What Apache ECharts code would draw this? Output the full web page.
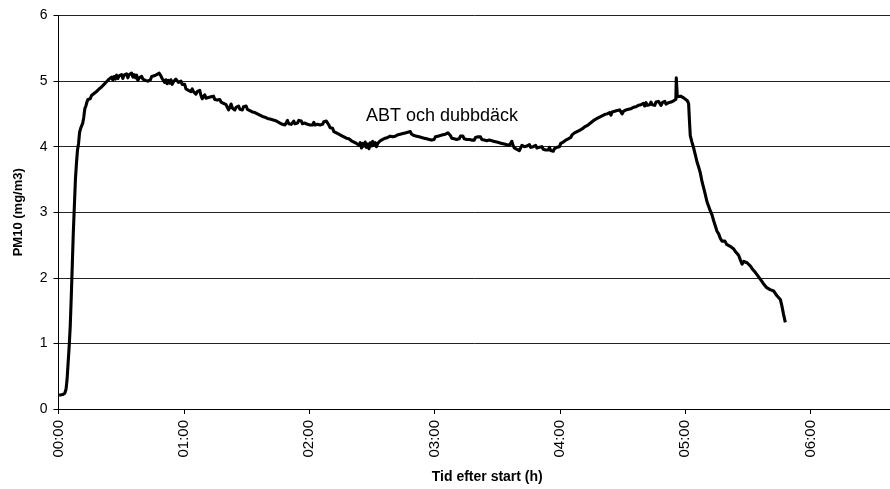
<!DOCTYPE html>
<html>
<head>
<meta charset="utf-8">
<script src="https://cdn.jsdelivr.net/npm/echarts@6/dist/echarts.min.js"></script>
<style>
  html, body { margin: 0; padding: 0; background: #fff; }
  #chart { width: 890px; height: 489px; }
</style>
</head>
<body>
<div id="chart"></div>
<script>
// Time since start, in minutes
const minutes = [
  0.3, 1, 2, 3, 3.6, 4.1, 4.6, 5.1, 5.6, 6.1, 6.6, 7.1, 7.6, 8.1, 8.6, 9.1, 9.6, 10.1, 10.6, 11.1,
  11.6, 12.1, 12.6, 13.1, 13.6, 14.1, 14.6, 15.2, 15.8, 16.4, 17.0, 17.6, 18.2, 18.8, 19.4, 20.0,
  20.6, 21.2, 21.8, 22.4, 23.0, 23.6, 24.2, 24.8, 25.4, 26.0, 26.6, 27.2, 27.8, 28.4, 29.0, 29.6,
  30.2, 30.8, 31.4, 32.0, 32.6, 33.2, 33.8, 34.4, 35.0, 35.6, 36.2, 36.8, 37.4, 38.0, 38.6, 39.2,
  39.8, 40.4, 41.0, 41.6, 42.2, 42.8, 43.4, 44.0, 44.6, 45.2, 45.8, 46.4, 47.0, 47.6, 48.2, 48.6,
  49.0, 49.6, 50.2, 50.8, 51.4, 52.0, 52.6, 53.2, 53.8, 54.4, 55.0, 55.6, 56.2, 56.8, 57.4, 58.0,
  58.6, 59.2, 59.8, 60.4, 61.0, 61.6, 62.2, 62.8, 63.4, 64.0, 64.6, 65.2, 65.8, 66.4, 67.0, 67.6,
  68.2, 68.8, 69.4, 70.0, 70.6, 71.2, 71.8, 72.4, 73.0, 73.6, 74.2, 74.8, 75.4, 76.0, 76.6, 77.2,
  77.8, 78.4, 79.0, 79.6, 80.2, 80.8, 81.4, 82.0, 82.6, 83.2, 83.8, 84.4, 85.0, 85.6, 86.2, 86.8,
  87.4, 88.0, 88.6, 89.2, 89.8, 90.4, 91.0, 91.6, 92.2, 92.8, 93.4, 94.0, 94.6, 95.2, 95.8, 96.4,
  97.0, 97.6, 98.2, 98.8, 99.4, 100.0, 100.6, 101.2, 101.8, 102.4, 103.0, 103.6, 104.2, 104.8,
  105.4, 106.0, 106.6, 107.2, 107.8, 108.4, 109.0, 109.6, 110.2, 110.8, 111.4, 112.0, 112.6,
  113.2, 113.8, 114.4, 115.0, 115.6, 116.2, 116.8, 117.4, 118.0, 118.6, 119.2, 119.8, 120.4,
  121.0, 121.6, 122.2, 122.8, 123.4, 124.0, 124.6, 125.2, 125.8, 126.4, 127.0, 127.6, 128.2,
  128.8, 129.4, 130.0, 130.6, 131.2, 131.8, 132.4, 133.0, 133.6, 134.2, 134.8, 135.4, 136.0,
  136.6, 137.2, 137.8, 138.4, 139.0, 139.6, 140.2, 140.8, 141.4, 142.0, 142.6, 143.2, 143.8,
  144.4, 145.0, 145.6, 146.2, 146.8, 147.4, 148.0, 148.6, 149.2, 149.8, 150.4, 151.0, 151.6,
  152.2, 152.8, 153.4, 154.0, 154.6, 155.2, 155.8, 156.4, 157.0, 157.6, 158.2, 158.8, 159.4,
  160.0, 160.6, 161.2, 161.8, 162.4, 163.0, 163.6, 164.2, 164.8, 165.4, 166.0, 166.6, 167.2,
  167.8, 168.4, 169.0, 169.6, 170.2, 170.8, 171.4, 172.0, 172.6, 173.2, 173.8, 174.4, 175.0,
  175.6, 176.2, 176.8, 177.4, 178.0, 178.6, 179.2, 179.8, 180.4, 181.0, 181.6, 182.2, 182.8,
  183.4, 184.0, 184.6, 185.2, 185.8, 186.4, 187.0, 187.6, 188.2, 188.8, 189.4, 190.0, 190.6,
  191.2, 191.8, 192.4, 193.0, 193.6, 194.2, 194.8, 195.4, 196.0, 196.6, 197.2, 197.8, 198.4,
  199.0, 199.6, 200.2, 200.8, 201.4, 202.0, 202.6, 203.2, 203.8, 204.4, 205.0, 205.6, 206.2,
  206.8, 207.4, 208.0, 208.6, 209.2, 209.8, 210.4, 211.0, 211.6, 212.2, 212.8, 213.4, 214.0,
  214.6, 215.2, 215.8, 216.4, 217.0, 217.6, 218.2, 218.8, 219.4, 220.0, 220.6, 221.2, 221.8,
  222.4, 223.0, 223.6, 224.2, 224.8, 225.4, 226.0, 226.6, 227.2, 227.8, 228.4, 229.0, 229.6,
  230.2, 230.8, 231.4, 232.0, 232.6, 233.2, 233.8, 234.4, 235.0, 235.6, 236.2, 236.8, 237.4,
  238.0, 238.6, 239.2, 239.8, 240.4, 241.0, 241.6, 242.2, 242.8, 243.4, 244.0, 244.6, 245.2,
  245.8, 246.4, 247.0, 247.6, 248.2, 248.8, 249.4, 250.0, 250.6, 251.2, 251.8, 252.4, 253.0,
  253.6, 254.2, 254.8, 255.4, 256.0, 256.6, 257.2, 257.8, 258.4, 259.0, 259.6, 260.2, 260.8,
  261.4, 262.0, 262.6, 263.2, 263.8, 264.4, 265.0, 265.6, 266.2, 266.8, 267.4, 268.0, 268.6,
  269.2, 269.8, 270.4, 271.0, 271.6, 272.2, 272.8, 273.4, 274.0, 274.6, 275.2, 275.8, 276.4,
  277.0, 277.6, 278.2, 278.8, 279.4, 280.0, 280.6, 281.2, 281.8, 282.4, 283.0, 283.6, 284.2,
  284.8, 285.4, 286.0, 286.6, 287.2, 287.8, 288.4, 289.0, 289.6, 290.2, 290.8, 291.4, 292.0,
  292.6, 293.2, 293.8, 294.4, 295.0, 295.5, 295.7, 295.9, 296.2, 297.0, 297.8, 298.6, 299.4,
  300.2, 301.0, 301.6, 302.0, 302.4, 303.2, 304.0, 304.8, 305.6, 306.4, 307.2, 308.0, 308.8,
  309.6, 310.4, 311.2, 312.0, 312.8, 313.6, 314.4, 315.2, 316.0, 316.8, 317.6, 318.3, 319.0,
  319.8, 320.6, 321.5, 322.4, 323.2, 324.0, 324.8, 325.6, 326.4, 327.2, 328.0, 328.8, 329.6,
  330.4, 331.2, 332.0, 332.8, 333.6, 334.4, 335.2, 335.9, 336.6, 337.4, 338.2, 339.0, 339.8,
  340.6, 341.4, 342.3, 343.0, 343.8, 344.6, 345.5, 346.2, 347.0, 347.9
];

// PM10 concentration, mg/m3
const pm10 = [
  0.21, 0.21, 0.22, 0.24, 0.30, 0.45, 0.70, 0.95, 1.25, 1.70, 2.20, 2.70, 3.10, 3.50, 3.75, 3.95, 4.05, 4.22, 4.28, 4.30,
  4.36, 4.45, 4.58, 4.62, 4.68, 4.72, 4.74, 4.73, 4.78, 4.76, 4.81, 4.80, 4.84, 4.83, 4.88, 4.86,
  4.91, 4.90, 4.95, 4.93, 4.99, 4.97, 5.03, 5.00, 5.06, 5.02, 5.07, 5.03, 5.09, 5.04, 5.08, 5.05,
  5.10, 5.04, 5.09, 5.06, 5.11, 5.05, 5.10, 5.07, 5.12, 5.06, 5.10, 5.05, 5.09, 5.01, 5.05, 5.04,
  5.07, 5.03, 5.06, 5.01, 5.04, 5.00, 5.03, 5.02, 5.07, 5.04, 5.08, 5.05, 5.10, 5.07, 5.12, 5.15,
  5.08, 5.04, 5.06, 4.98, 5.02, 4.96, 5.01, 4.97, 5.02, 4.95, 4.99, 4.96, 5.03, 5.05, 4.98, 4.96,
  5.00, 4.95, 4.92, 4.95, 4.88, 4.91, 4.86, 4.88, 4.84, 4.88, 4.84, 4.86, 4.80, 4.84, 4.82, 4.86,
  4.78, 4.73, 4.76, 4.79, 4.74, 4.77, 4.75, 4.72, 4.76, 4.73, 4.77, 4.72, 4.75, 4.71, 4.68, 4.72,
  4.68, 4.70, 4.66, 4.69, 4.64, 4.60, 4.56, 4.60, 4.65, 4.59, 4.62, 4.56, 4.60, 4.58, 4.62, 4.57,
  4.60, 4.56, 4.61, 4.58, 4.62, 4.57, 4.60, 4.55, 4.57, 4.53, 4.56, 4.52, 4.55, 4.50, 4.53, 4.48,
  4.50, 4.46, 4.49, 4.45, 4.47, 4.43, 4.46, 4.42, 4.44, 4.41, 4.44, 4.40, 4.43, 4.38,
  4.41, 4.36, 4.39, 4.34, 4.37, 4.33, 4.36, 4.40, 4.35, 4.38, 4.34, 4.36, 4.39,
  4.35, 4.38, 4.36, 4.40, 4.37, 4.39, 4.35, 4.38, 4.36, 4.39, 4.34, 4.37, 4.33,
  4.36, 4.33, 4.37, 4.33, 4.36, 4.34, 4.37, 4.33, 4.36, 4.34, 4.38, 4.35, 4.39,
  4.36, 4.33, 4.29, 4.26, 4.28, 4.23, 4.25, 4.21, 4.23, 4.19, 4.21, 4.17, 4.19,
  4.15, 4.17, 4.13, 4.16, 4.12, 4.14, 4.09, 4.12, 4.07, 4.10, 4.05, 4.08, 4.02,
  4.06, 3.98, 4.05, 4.01, 4.07, 3.99, 4.04, 3.97, 4.06, 4.01, 4.08, 4.02, 4.06,
  4.00, 4.05, 4.03, 4.09, 4.06, 4.11, 4.08, 4.13, 4.10, 4.14, 4.12, 4.16, 4.13,
  4.15, 4.12, 4.16, 4.14, 4.18, 4.15, 4.19, 4.17, 4.20, 4.17, 4.21, 4.18, 4.22,
  4.20, 4.23, 4.19, 4.21, 4.17, 4.20, 4.16, 4.19, 4.15, 4.18, 4.14, 4.17, 4.13,
  4.16, 4.12, 4.15, 4.11, 4.14, 4.10, 4.13, 4.11, 4.15, 4.12, 4.16, 4.13, 4.17,
  4.14, 4.18, 4.15, 4.19, 4.16, 4.21, 4.24, 4.17, 4.13, 4.16, 4.12, 4.15, 4.11,
  4.14, 4.12, 4.16, 4.13, 4.16, 4.12, 4.15, 4.11, 4.14, 4.11, 4.14, 4.10, 4.13,
  4.10, 4.14, 4.11, 4.15, 4.12, 4.15, 4.11, 4.14, 4.10, 4.13, 4.09, 4.12, 4.10,
  4.13, 4.09, 4.12, 4.08, 4.11, 4.07, 4.10, 4.06, 4.09, 4.05, 4.08, 4.04, 4.07,
  4.03, 4.06, 4.02, 4.05, 4.08, 4.02, 3.98, 4.01, 3.96, 3.99, 3.94, 3.97, 4.02,
  4.05, 4.00, 3.97, 4.01, 3.98, 4.03, 3.99, 3.96, 4.00, 3.97, 4.02, 3.98, 3.95,
  3.99, 3.96, 4.00, 3.96, 3.99, 3.95, 3.98, 3.95, 3.99, 3.94, 3.97, 3.93, 3.97,
  3.95, 3.99, 4.02, 4.00, 4.05, 4.03, 4.07, 4.05, 4.10, 4.08, 4.12, 4.10, 4.14,
  4.18, 4.16, 4.21, 4.19, 4.23, 4.20, 4.25, 4.22, 4.27, 4.25, 4.30, 4.27, 4.32,
  4.29, 4.35, 4.32, 4.38, 4.35, 4.41, 4.38, 4.43, 4.40, 4.45, 4.42, 4.47, 4.44,
  4.49, 4.46, 4.50, 4.47, 4.52, 4.48, 4.53, 4.50, 4.54, 4.51, 4.55, 4.52, 4.56,
  4.53, 4.50, 4.54, 4.52, 4.56, 4.53, 4.57, 4.54, 4.58, 4.55, 4.60, 4.57, 4.61,
  4.58, 4.63, 4.60, 4.64, 4.61, 4.66, 4.62, 4.67, 4.63, 4.66, 4.64, 4.68, 4.64,
  4.67, 4.63, 4.68, 4.65, 4.69, 4.66, 4.63, 4.67, 4.65, 4.69, 4.65, 4.62, 4.67,
  4.64, 4.68, 4.65, 4.70, 4.67, 4.72, 5.05, 5.02, 4.76, 4.74, 4.77, 4.75, 4.74,
  4.73, 4.70, 4.66, 4.40, 4.17, 4.07, 3.98, 3.88, 3.77, 3.69, 3.60, 3.47, 3.37,
  3.27, 3.16, 3.09, 3.02, 2.96, 2.87, 2.79, 2.71, 2.67, 2.60, 2.56, 2.53, 2.56,
  2.51, 2.53, 2.48, 2.46, 2.44, 2.40, 2.38, 2.34, 2.27, 2.21, 2.25, 2.26, 2.23,
  2.20, 2.18, 2.14, 2.12, 2.08, 2.05, 2.01, 1.98, 1.95, 1.91, 1.88, 1.85, 1.84,
  1.82, 1.81, 1.80, 1.77, 1.73, 1.70, 1.67, 1.58, 1.45, 1.32
];

// Axis ticks
const hourTicks = ['00:00', '01:00', '02:00', '03:00', '04:00', '05:00', '06:00'];
const yTicks = [0, 1, 2, 3, 4, 5, 6];

const seriesLabel = 'ABT och dubbdäck';
const xTitle = 'Tid efter start (h)';
const yTitle = 'PM10 (mg/m3)';

const points = minutes.map((m, i) => [m, pm10[i]]);
const FONT = '"Liberation Sans", Arial, Helvetica, sans-serif';

const chart = echarts.init(document.getElementById('chart'), null, { renderer: 'canvas' });

chart.setOption({
  animation: false,
  backgroundColor: '#ffffff',
  textStyle: { fontFamily: FONT },
  grid: { left: 58.5, right: 0, top: 15.5, bottom: 76.3, containLabel: false },
  xAxis: {
    type: 'value',
    min: 0,
    max: 398,
    interval: 60,
    name: xTitle,
    nameLocation: 'middle',
    nameGap: 61,
    nameTextStyle: { fontFamily: FONT, fontSize: 14, fontWeight: 'bold', color: '#000', padding: [0, 0, 0, 26] },
    axisLine: { show: true, lineStyle: { color: '#000', width: 1 } },
    axisTick: { show: true, length: 5, lineStyle: { color: '#000' } },
    splitLine: { show: false },
    axisLabel: {
      rotate: 90,
      margin: 11,
      fontFamily: FONT,
      fontSize: 15,
      color: '#000',
      showMaxLabel: false,
      formatter: v => (v % 60 === 0 ? hourTicks[v / 60] || '' : '')
    }
  },
  yAxis: {
    type: 'value',
    min: yTicks[0],
    max: yTicks[yTicks.length - 1],
    interval: 1,
    name: yTitle,
    nameLocation: 'middle',
    nameGap: 34,
    nameRotate: 90,
    nameTextStyle: { fontFamily: FONT, fontSize: 13, fontWeight: 'bold', color: '#000' },
    axisLine: { show: true, lineStyle: { color: '#000', width: 1 } },
    axisTick: { show: true, length: 5, lineStyle: { color: '#000' } },
    splitLine: { show: true, lineStyle: { color: '#222', width: 1 } },
    axisLabel: { margin: 11, fontFamily: FONT, fontSize: 14, color: '#000' }
  },
  graphic: [{
    type: 'text',
    left: 366,
    top: 107,
    style: { text: seriesLabel, font: '18px ' + FONT, fill: '#000' }
  }],
  series: [{
    type: 'line',
    data: points,
    showSymbol: false,
    smooth: false,
    lineStyle: { color: '#000', width: 3.1, join: 'round' },
    emphasis: { disabled: true }
  }]
});
</script>
</body>
</html>
